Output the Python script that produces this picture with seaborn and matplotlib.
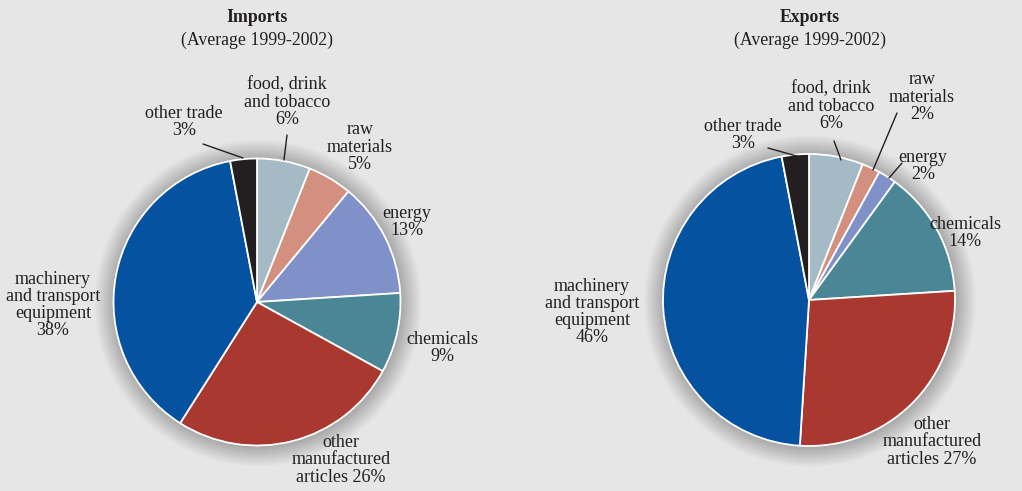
import matplotlib
matplotlib.use("Agg")
import matplotlib.pyplot as plt
import seaborn as sns
from matplotlib.patches import Circle

# ---- data ----
categories = ["food, drink and tobacco", "raw materials", "energy", "chemicals",
              "other manufactured articles", "machinery and transport equipment", "other trade"]
imports_pct = [6, 5, 13, 9, 26, 38, 3]
exports_pct = [6, 2, 2, 14, 27, 46, 3]
colors = ["#a4bac4", "#d4907e", "#8090c8", "#4a8696", "#a83830", "#0553a0", "#231f20"]

imports_labels = ["food, drink\nand tobacco\n6%", "raw\nmaterials\n5%", "energy\n13%",
                  "chemicals\n9%", "other\nmanufactured\narticles 26%",
                  "machinery\nand transport\nequipment\n38%", "other trade\n3%"]
exports_labels = ["food, drink\nand tobacco\n6%", "raw\nmaterials\n2%", "energy\n2%",
                  "chemicals\n14%", "other\nmanufactured\narticles 27%",
                  "machinery\nand transport\nequipment\n46%", "other trade\n3%"]

W, H = 1022, 491
sns.set_style("white")
plt.rcParams["font.family"] = ["Liberation Serif", "DejaVu Serif"]

fig = plt.figure(figsize=(W / 100, H / 100), dpi=100)
bg = "#e6e6e6"
fig.patch.set_facecolor(bg)
ax = fig.add_axes([0, 0, 1, 1])
ax.set_facecolor(bg)

def Y(y):
    return H - y

def draw_pie(values, cx, cy, r, labels, label_pos, leaders, title_x, title):
    # soft shadow glow
    for i in range(20, 0, -1):
        ax.add_patch(Circle((cx + 1, Y(cy) - 1), r + i, color="black", alpha=0.011, lw=0, zorder=1))
    ax.pie(values, colors=colors, startangle=90, counterclock=False,
           center=(cx, Y(cy)), radius=r, frame=True,
           wedgeprops=dict(edgecolor="white", linewidth=1.3, zorder=3))
    for lab, (lx, ly) in zip(labels, label_pos):
        ax.text(lx, Y(ly), lab, ha="center", va="center", fontsize=13,
                color="#231f20", linespacing=1.02, zorder=5)
    for (x0, y0, x1, y1) in leaders:
        ax.plot([x0, x1], [Y(y0), Y(y1)], color="#231f20", lw=1.0, zorder=6)
    ax.text(title_x, Y(17), title, ha="center", va="center",
            fontsize=12.8, fontweight="bold", color="#231f20")
    ax.text(title_x, Y(40), "(Average 1999-2002)", ha="center", va="center",
            fontsize=12.8, color="#231f20")

draw_pie(imports_pct, 257, 302, 143.5, imports_labels,
         [(287, 102), (360, 147), (407, 222), (442, 348), (341, 460), (53, 305), (184, 122)],
         [(203, 144, 243, 158), (287, 135, 284, 160)], 257, "Imports")

draw_pie(exports_pct, 809, 300, 146, exports_labels,
         [(831, 106), (922, 97), (923, 166), (965, 233), (932, 442), (592, 312), (743, 135)],
         [(768, 148, 800, 157), (834, 141, 841, 160), (897, 113, 873, 170), (902, 163, 889, 178)],
         810, "Exports")

ax.set_xlim(0, W)
ax.set_ylim(0, H)
ax.set_aspect("equal")
ax.axis("off")

fig.savefig("out.png", dpi=100, facecolor=bg)
